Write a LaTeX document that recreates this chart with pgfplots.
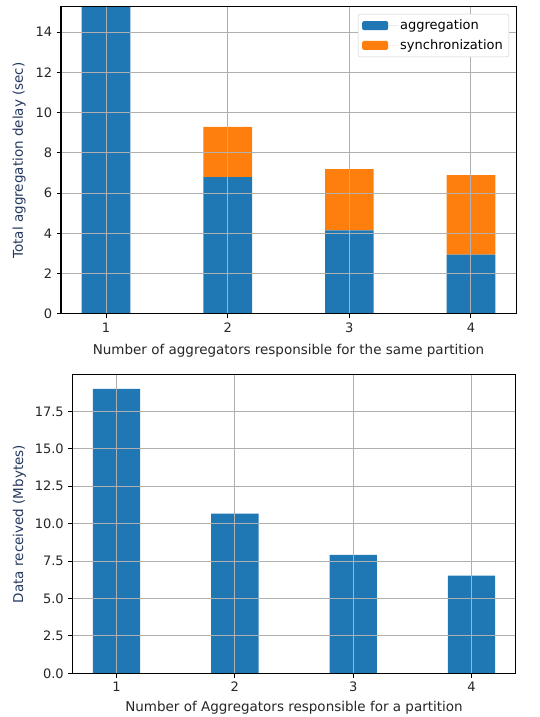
\documentclass[border=0pt]{standalone}
\usepackage{fontspec}
\setmainfont{DejaVu Sans}
\usepackage{pgfplots}
\pgfplotsset{compat=1.18}
\definecolor{c0}{HTML}{1F77B4}
\definecolor{c1}{HTML}{FF7F0E}
\definecolor{gridc}{HTML}{B0B0B0}
\definecolor{ylab}{HTML}{24385E}
\begin{document}
\fontsize{13}{15}\selectfont
\begin{tikzpicture}
\path[use as bounding box] (0pt,0pt) rectangle (540pt,717pt);
\pgfplotsset{common/.style={
  scale only axis, anchor=south west,
  xmin=0.63, xmax=4.37, xtick={1,2,3,4},
  grid=major, major grid style={gridc, line width=1pt},
  axis line style={line width=1pt, black},
  tick style={line width=1pt, black}, major tick length=4.4pt,
  tick align=outside, xtick pos=bottom, ytick pos=left,
  axis on top,
  /pgf/number format/assume math mode=true,
  tick label style={font=\fontsize{13}{15}\selectfont, black!85},
  label style={font=\fontsize{13.5}{16}\selectfont},
  ylabel style={ylab},
  xlabel style={black!85},
}}
% Top axis
\begin{axis}[common, at={(61pt,403pt)}, width=455pt, height=307pt,
  ymin=0, ymax=15.25, ytick={0,2,4,6,8,10,12,14},
  ybar stacked, bar width=0.4,
  xlabel={Number of aggregators responsible for the same partition},
  xlabel style={yshift=-3pt},
  ylabel={Total aggregation delay (sec)},
  ylabel style={xshift=0pt, yshift=1pt},
  legend style={at={(1,1)}, xshift=-7pt, yshift=-7pt, anchor=north east,
    draw=black!20, rounded corners=2pt, fill=white,
    font=\fontsize{13}{15}\selectfont, cells={anchor=west}, inner xsep=4pt, inner ysep=3.5pt, row sep=4pt},
  legend image code/.code={\path (0pt,0pt) -- (36pt,0pt); \fill[#1] (0pt,-4.5pt) rectangle (26pt,4.5pt);},
]
\addplot[draw=none, fill=c0] coordinates {(1,15.6) (2,6.8) (3,4.15) (4,2.95)};
\addplot[draw=none, fill=c1] coordinates {(1,0) (2,2.5) (3,3.05) (4,3.95)};
\legend{aggregation, synchronization}
\end{axis}
% Bottom axis
\begin{axis}[common, at={(72.7pt,43.7pt)}, width=442.6pt, height=298.6pt,
  ymin=0, ymax=19.95, ytick={0,2.5,5,7.5,10,12.5,15,17.5},
  yticklabel style={/pgf/number format/.cd, fixed, fixed zerofill, precision=1},
  ybar, bar width=0.4, bar shift=0pt,
  xlabel={Number of Aggregators responsible for a partition},
  ylabel={Data received (Mbytes)},
]
\addplot[draw=none, fill=c0] coordinates {(1,19.0) (2,10.66) (3,7.91) (4,6.53)};
\end{axis}
\end{tikzpicture}
\end{document}
